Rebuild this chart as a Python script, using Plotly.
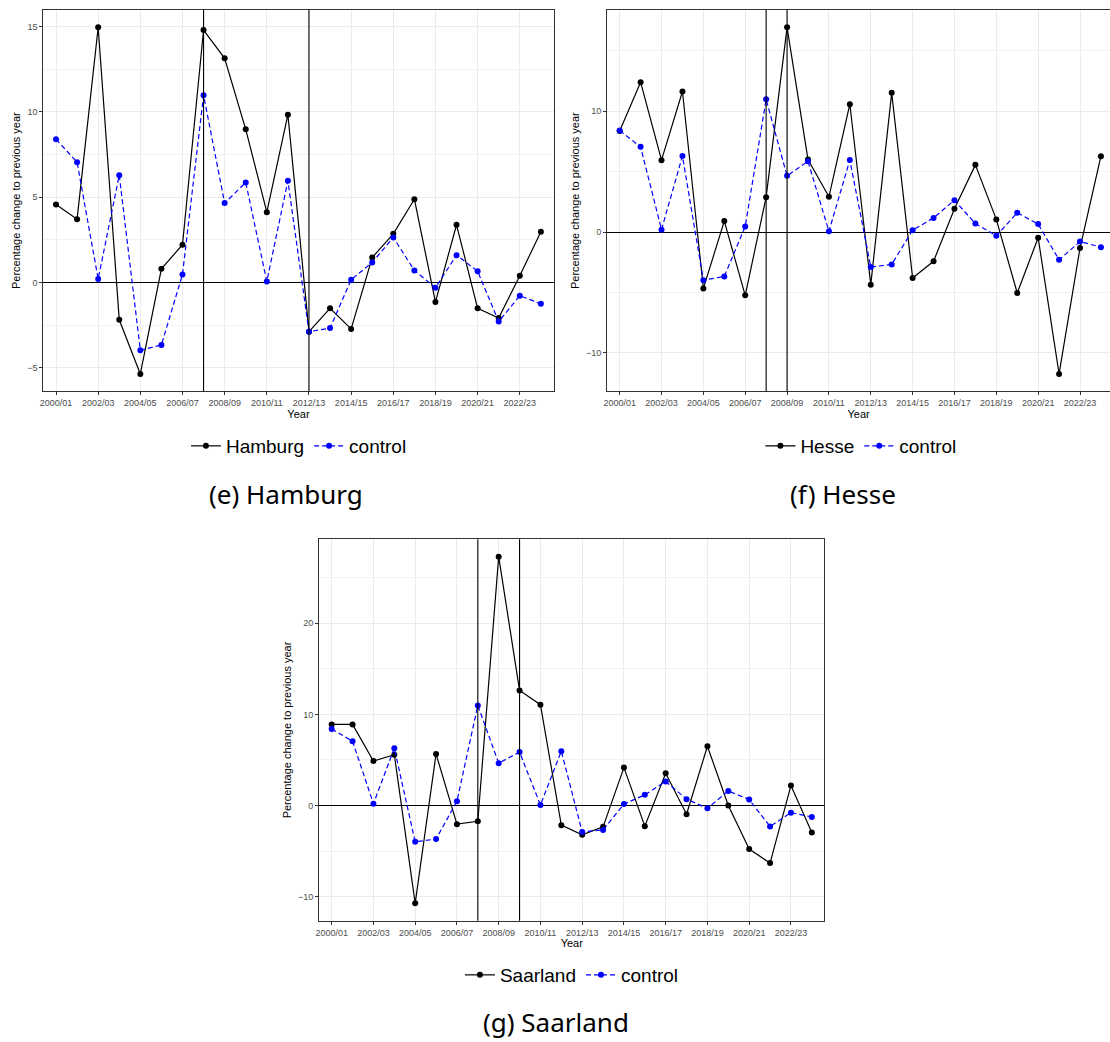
import plotly.graph_objects as go

# ---------------- data ----------------
years = ["2000/01", "2001/02", "2002/03", "2003/04", "2004/05", "2005/06",
         "2006/07", "2007/08", "2008/09", "2009/10", "2010/11", "2011/12",
         "2012/13", "2013/14", "2014/15", "2015/16", "2016/17", "2017/18",
         "2018/19", "2019/20", "2020/21", "2021/22", "2022/23", "2023/24"]
tick_labels = ["2000/01", "2002/03", "2004/05", "2006/07", "2008/09", "2010/11",
               "2012/13", "2014/15", "2016/17", "2018/19", "2020/21", "2022/23"]

control = [8.40, 7.05, 0.20, 6.29, -3.98, -3.67, 0.47, 10.98, 4.65, 5.86, 0.06, 5.96,
           -2.89, -2.68, 0.16, 1.17, 2.64, 0.70, -0.31, 1.60, 0.66, -2.30, -0.78, -1.25]
hamburg = [4.57, 3.71, 14.96, -2.19, -5.37, 0.80, 2.21, 14.80, 13.14, 8.98, 4.12, 9.84,
           -2.89, -1.52, -2.73, 1.46, 2.85, 4.88, -1.15, 3.38, -1.52, -2.09, 0.39, 2.97]
hesse = [8.37, 12.40, 5.95, 11.63, -4.66, 0.91, -5.23, 2.89, 16.94, 6.01, 2.92, 10.58,
         -4.35, 11.52, -3.80, -2.42, 1.93, 5.56, 1.05, -5.04, -0.47, -11.74, -1.32, 6.28]
saarland = [8.90, 8.90, 4.89, 5.58, -10.73, 5.66, -2.04, -1.72, 27.30, 12.63, 11.06, -2.15,
            -3.21, -2.34, 4.16, -2.26, 3.54, -0.95, 6.50, 0.00, -4.78, -6.31, 2.19, -2.96]

hamburg_events = ["2007/08", "2012/13"]
hesse_events = ["2007/08", "2008/09"]
saarland_events = ["2007/08", "2009/10"]

# ---------------- layout helpers ----------------
W, H = 1110, 1042
def fx(p):
    return p / W
def fy(p):
    return 1 - p / H

TICKFONT = dict(family="Liberation Sans, Arial, sans-serif", size=9, color="#4D4D4D")
TITLEFONT = dict(family="Liberation Sans, Arial, sans-serif", size=11, color="black")
GRID = "#EBEBEB"
BORDER = "#333333"

panels = [
    dict(name="Hamburg", series=hamburg, events=hamburg_events,
         x0=39.5, x1=551.5, y0=10, y1=391.3, xr=[-0.6, 23.6], dtick=5,
         caption="(e) Hamburg", cap_x=283, cap_y=494, leg_x=296, leg_y=446, mirror_y=True),
    dict(name="Hesse", series=hesse, events=hesse_events,
         x0=605.3, x1=1110, y0=10, y1=391.3, xr=[-0.6, -0.6 + (1110 - 605.3) / 21.0], dtick=10,
         caption="(f) Hesse", cap_x=842, cap_y=494, leg_x=860, leg_y=446, mirror_y=False),
    dict(name="Saarland", series=saarland, events=saarland_events,
         x0=316.3, x1=823.3, y0=539.3, y1=920.7, xr=[-0.6, 23.6], dtick=10,
         caption="(g) Saarland", cap_x=554, cap_y=1022, leg_x=570, leg_y=975, mirror_y=True),
]

fig = go.Figure()
shapes = []
annotations = []
layout = {}

for i, p in enumerate(panels, start=1):
    sfx = "" if i == 1 else str(i)
    xa, ya = "x" + sfx, "y" + sfx
    leg = "legend" + sfx

    fig.add_trace(go.Scatter(
        x=years, y=p["series"], mode="lines+markers", name=p["name"],
        xaxis=xa, yaxis=ya, legend=leg,
        line=dict(color="black", width=1.2),
        marker=dict(color="black", size=6),
    ))
    fig.add_trace(go.Scatter(
        x=years, y=control, mode="lines+markers", name="control",
        xaxis=xa, yaxis=ya, legend=leg,
        line=dict(color="blue", width=1.2, dash="5px,3px"),
        marker=dict(color="blue", size=6),
    ))

    all_vals = p["series"] + control
    lo, hi = min(all_vals), max(all_vals)
    pad = 0.05 * (hi - lo)

    layout["xaxis" + sfx] = dict(
        domain=[fx(p["x0"]), fx(p["x1"])], anchor=ya,
        type="category", categoryorder="array", categoryarray=years,
        range=p["xr"], tickmode="array", tickvals=tick_labels, ticktext=tick_labels,
        showgrid=True, gridcolor=GRID, gridwidth=1,
        ticks="outside", ticklen=3, tickcolor=BORDER, tickwidth=1,
        tickfont=TICKFONT,
        showline=True, linecolor=BORDER, linewidth=1, mirror=True,
        zeroline=False,
        title=dict(text="Year", font=TITLEFONT, standoff=1),
    )
    layout["yaxis" + sfx] = dict(
        domain=[fy(p["y1"]), fy(p["y0"])], anchor=xa,
        range=[lo - pad, hi + pad], tick0=0, dtick=p["dtick"],
        showgrid=True, gridcolor=GRID, gridwidth=1,
        minor=dict(showgrid=True, gridcolor="#F2F2F2", gridwidth=0.6, dtick=p["dtick"] / 2, tick0=0),
        ticks="outside", ticklen=3, tickcolor=BORDER, tickwidth=1,
        tickfont=TICKFONT,
        showline=True, linecolor=BORDER, linewidth=1, mirror=p["mirror_y"],
        zeroline=True, zerolinecolor="black", zerolinewidth=1.2,
        title=dict(text="Percentage change to previous year", font=TITLEFONT, standoff=4),
    )
    for ev in p["events"]:
        shapes.append(dict(type="line", xref=xa, yref=ya + " domain", x0=ev, x1=ev,
                           y0=0, y1=1, line=dict(color="black", width=1.1), layer="above"))
    layout[leg] = dict(
        orientation="h", x=fx(p["leg_x"]), y=fy(p["leg_y"]), xanchor="center", yanchor="middle",
        font=dict(family="Liberation Sans, Arial, sans-serif", size=19, color="black"),
        itemwidth=30, bgcolor="rgba(0,0,0,0)", tracegroupgap=0,
    )
    annotations.append(dict(
        text=p["caption"], x=fx(p["cap_x"]), y=fy(p["cap_y"]), xref="paper", yref="paper",
        xanchor="center", yanchor="middle", showarrow=False,
        font=dict(family="Noto Sans, Open Sans, sans-serif", size=26, color="black"),
    ))

fig.update_layout(
    width=W, height=H, margin=dict(l=0, r=0, t=0, b=0),
    paper_bgcolor="white", plot_bgcolor="white",
    shapes=shapes, annotations=annotations, showlegend=True,
    **layout,
)

fig.write_html("out.html")
